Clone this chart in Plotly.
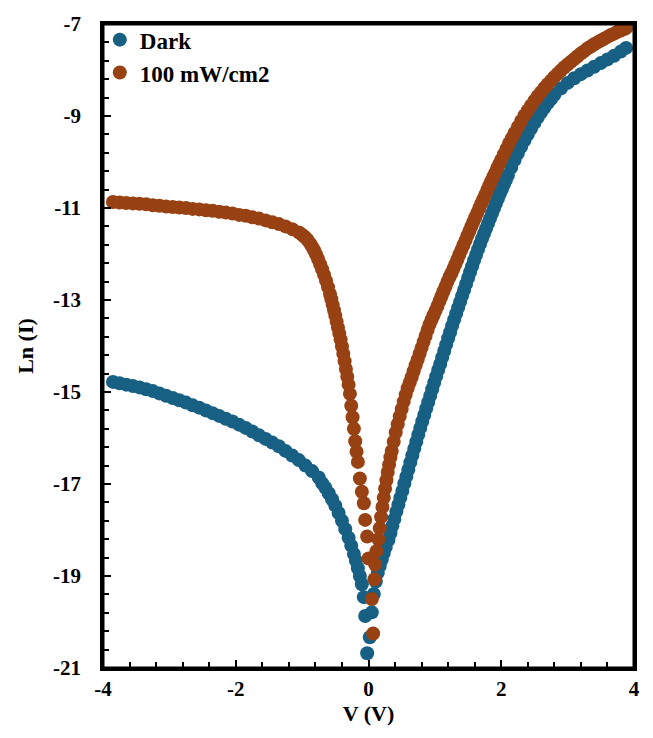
import plotly.graph_objects as go

# ---- Dark series (V in volts, Ln(I)) ----
dark_v = [
    -3.85, -3.75, -3.65, -3.55, -3.45, -3.35, -3.25, -3.15, -3.05, -2.95,
    -2.85, -2.75, -2.65, -2.55, -2.45, -2.35, -2.25, -2.15, -2.05, -1.95,
    -1.85, -1.75, -1.65, -1.55, -1.45, -1.35, -1.25, -1.15, -1.05, -0.95,
    -0.85, -0.75, -0.70, -0.65, -0.60, -0.55, -0.50, -0.45, -0.40, -0.35,
    -0.30, -0.26, -0.22, -0.19, -0.16, -0.13, -0.10, -0.07, -0.05, -0.02,
    0.02, 0.05, 0.08, 0.11, 0.14, 0.17, 0.20, 0.23, 0.26,
    0.30, 0.33, 0.36, 0.39, 0.42, 0.45, 0.48, 0.51, 0.54, 0.57,
    0.60, 0.63, 0.66, 0.69, 0.72, 0.75, 0.78, 0.81, 0.84, 0.87,
    0.90, 0.93, 0.96, 0.99, 1.02, 1.05, 1.08, 1.11, 1.14, 1.17,
    1.20, 1.23, 1.26, 1.29, 1.32, 1.35, 1.38, 1.41, 1.44, 1.47,
    1.50, 1.53, 1.56, 1.59, 1.62, 1.65, 1.68, 1.71, 1.74, 1.77,
    1.80, 1.83, 1.86, 1.89, 1.92, 1.95, 1.98, 2.01, 2.04, 2.07,
    2.10, 2.15, 2.20, 2.25, 2.30, 2.35, 2.40, 2.45, 2.50, 2.55,
    2.60, 2.65, 2.70, 2.75, 2.80, 2.90, 3.00, 3.10, 3.20, 3.30,
    3.40, 3.50, 3.60, 3.70, 3.80, 3.88,
]
dark_ln = [
    -14.78, -14.81, -14.84, -14.87, -14.90, -14.94, -14.98, -15.03, -15.08, -15.13,
    -15.18, -15.23, -15.29, -15.34, -15.40, -15.46, -15.52, -15.58, -15.64, -15.71,
    -15.78, -15.86, -15.94, -16.02, -16.10, -16.18, -16.28, -16.38, -16.48, -16.60,
    -16.72, -16.86, -16.98, -17.08, -17.20, -17.33, -17.47, -17.63, -17.80, -17.98,
    -18.17, -18.34, -18.52, -18.67, -18.83, -19.00, -19.18, -19.46, -19.87, -20.68,
    -20.33, -19.79, -19.39, -19.12, -18.93, -18.78, -18.64, -18.50, -18.37,
    -18.22, -18.07, -17.91, -17.76, -17.60, -17.45, -17.30, -17.15, -16.99, -16.84,
    -16.69, -16.53, -16.38, -16.23, -16.08, -15.93, -15.78, -15.64, -15.50, -15.36,
    -15.22, -15.08, -14.94, -14.80, -14.66, -14.52, -14.39, -14.25, -14.11, -13.97,
    -13.83, -13.70, -13.56, -13.43, -13.30, -13.17, -13.04, -12.91, -12.78, -12.65,
    -12.52, -12.39, -12.27, -12.14, -12.02, -11.90, -11.78, -11.67, -11.56, -11.45,
    -11.34, -11.23, -11.12, -11.01, -10.90, -10.80, -10.69, -10.59, -10.49, -10.39,
    -10.29, -10.12, -9.96, -9.81, -9.67, -9.53, -9.40, -9.27, -9.15, -9.03,
    -8.92, -8.82, -8.72, -8.63, -8.54, -8.40, -8.28, -8.18, -8.09, -8.01,
    -7.93, -7.85, -7.77, -7.69, -7.60, -7.52,
]

# ---- Illuminated series, 100 mW/cm2 ----
light_v = [
    -3.85, -3.75, -3.65, -3.55, -3.45, -3.35, -3.25, -3.15, -3.05, -2.95,
    -2.85, -2.75, -2.65, -2.55, -2.45, -2.35, -2.25, -2.15, -2.05, -1.95,
    -1.85, -1.75, -1.65, -1.55, -1.45, -1.35, -1.25, -1.15, -1.05,
    -1.00, -0.96, -0.92, -0.88, -0.85, -0.82, -0.79, -0.76, -0.73, -0.70,
    -0.67, -0.64, -0.61, -0.58, -0.56, -0.54, -0.52, -0.50, -0.48, -0.46,
    -0.44, -0.42, -0.40, -0.38, -0.36, -0.34, -0.32, -0.30, -0.28, -0.26,
    -0.24, -0.22, -0.20, -0.18, -0.16, -0.13, -0.10, -0.07, -0.05, -0.02,
    0.00, 0.07, 0.05, 0.09, 0.10, 0.12, 0.15, 0.17, 0.19, 0.21,
    0.23, 0.25, 0.27, 0.29, 0.31, 0.33, 0.35, 0.38, 0.41, 0.44,
    0.47, 0.50, 0.53, 0.56, 0.59, 0.62, 0.65, 0.68, 0.71, 0.74,
    0.77, 0.80, 0.83, 0.86, 0.89, 0.92, 0.95, 0.98, 1.01, 1.04,
    1.07, 1.10, 1.13, 1.16, 1.19, 1.22, 1.25, 1.28, 1.31, 1.34,
    1.37, 1.40, 1.43, 1.46, 1.49, 1.52, 1.55, 1.58, 1.61, 1.64,
    1.67, 1.70, 1.73, 1.76, 1.79, 1.82, 1.85, 1.88, 1.91, 1.94,
    1.97, 2.00, 2.04, 2.08, 2.12, 2.16, 2.20, 2.25, 2.30, 2.35,
    2.40, 2.45, 2.50, 2.55, 2.60, 2.65, 2.70, 2.75, 2.80, 2.85,
    2.90, 2.95, 3.00, 3.05, 3.10, 3.15, 3.20, 3.25, 3.30, 3.35,
    3.40, 3.45, 3.50, 3.55, 3.60, 3.65, 3.70, 3.75, 3.80, 3.85,
    3.88,
]
light_ln = [
    -10.87, -10.88, -10.89, -10.90, -10.91, -10.92, -10.94, -10.95, -10.97, -10.98,
    -10.99, -11.00, -11.02, -11.03, -11.05, -11.06, -11.08, -11.10, -11.12, -11.15,
    -11.17, -11.20, -11.23, -11.27, -11.31, -11.35, -11.40, -11.46, -11.53,
    -11.58, -11.63, -11.69, -11.77, -11.84, -11.92, -12.01, -12.11, -12.22, -12.33,
    -12.45, -12.58, -12.72, -12.87, -12.98, -13.10, -13.22, -13.34, -13.47, -13.60,
    -13.73, -13.86, -14.01, -14.17, -14.33, -14.50, -14.67, -14.84, -15.04, -15.30,
    -15.55, -15.80, -16.07, -16.30, -16.52, -16.88, -17.17, -17.42, -17.78, -18.14,
    -18.62, -20.25, -19.50, -19.07, -18.75, -18.46, -18.20, -17.96, -17.72, -17.50,
    -17.30, -17.10, -16.92, -16.74, -16.58, -16.42, -16.28, -16.08, -15.88, -15.70,
    -15.53, -15.37, -15.21, -15.06, -14.92, -14.80, -14.68, -14.55, -14.42, -14.30,
    -14.17, -14.04, -13.91, -13.78, -13.65, -13.53, -13.43, -13.33, -13.23, -13.13,
    -13.02, -12.92, -12.81, -12.71, -12.60, -12.50, -12.42, -12.32, -12.22, -12.12,
    -12.01, -11.91, -11.81, -11.71, -11.60, -11.50, -11.40, -11.30, -11.20, -11.10,
    -11.00, -10.90, -10.81, -10.71, -10.61, -10.51, -10.42, -10.32, -10.23, -10.13,
    -10.04, -9.95, -9.83, -9.71, -9.59, -9.48, -9.37, -9.24, -9.11, -8.99,
    -8.88, -8.77, -8.67, -8.57, -8.48, -8.39, -8.31, -8.23, -8.15, -8.08,
    -8.01, -7.94, -7.88, -7.82, -7.76, -7.70, -7.64, -7.59, -7.53, -7.49,
    -7.44, -7.40, -7.36, -7.32, -7.28, -7.24, -7.21, -7.17, -7.14, -7.11,
    -7.09,
]

x_ticks = [-4, -2, 0, 2, 4]
y_ticks = [-21, -19, -17, -15, -13, -11, -9, -7]
series_names = ["Dark", "100 mW/cm2"]
series_colors = ["#176084", "#984113"]

# minor tick positions every 0.4 between the major ticks
x_minor = [round(-4 + 0.4 * i, 2) for i in range(21)]
y_minor = [round(-21 + 0.4 * i, 2) for i in range(36)]

FONT = "Liberation Serif, Times New Roman, serif"

fig = go.Figure()
fig.add_trace(go.Scatter(
    x=dark_v, y=dark_ln, mode="markers", name="<b>%s</b>" % series_names[0],
    marker=dict(size=14, color=series_colors[0]),
))
fig.add_trace(go.Scatter(
    x=light_v, y=light_ln, mode="markers", name="<b>%s</b>" % series_names[1],
    marker=dict(size=14, color=series_colors[1]),
))

axis_common = dict(
    showline=True, linecolor="black", linewidth=3, mirror=True,
    showgrid=False, zeroline=False,
    ticks="inside", ticklen=8, tickwidth=2, tickcolor="black",
    tickfont=dict(family=FONT, size=21, color="black"),
)

fig.update_xaxes(
    range=[-4, 4], tickmode="array", tickvals=x_ticks,
    ticktext=["<b>%s</b>" % t for t in x_ticks],
    minor=dict(tickmode="array", tickvals=x_minor, ticks="inside", ticklen=6,
               tickwidth=2, tickcolor="black", showgrid=False),
    title=dict(text="<b>V (V)</b>", font=dict(family=FONT, size=22, color="black"), standoff=6),
    **axis_common,
)
fig.update_yaxes(
    range=[-21, -7], tickmode="array", tickvals=y_ticks,
    ticktext=["<b>%s</b>\u2002\u2009" % t for t in y_ticks],
    minor=dict(tickmode="array", tickvals=y_minor, ticks="inside", ticklen=6,
               tickwidth=2, tickcolor="black", showgrid=False),
    title=dict(text="<b>Ln (I)</b>", font=dict(family=FONT, size=22, color="black"), standoff=14),
    **axis_common,
)

# plot-area frame, drawn above everything
fig.add_shape(
    type="rect", xref="paper", yref="paper", x0=0, y0=0, x1=1, y1=1,
    line=dict(color="black", width=3), layer="above",
)

fig.update_layout(
    width=653, height=738,
    margin=dict(l=103, r=19, t=18, b=70),
    paper_bgcolor="white", plot_bgcolor="white",
    font=dict(family=FONT, color="black"),
    legend=dict(
        x=-0.006, y=1.009, xanchor="left", yanchor="top",
        bgcolor="rgba(255,255,255,0)", borderwidth=0,
        font=dict(family=FONT, size=23, color="black"),
    ),
    showlegend=True,
)

fig.write_html(
    "out.html",
    config={"displayModeBar": False},
    post_script="document.body.style.margin='0';",
)
